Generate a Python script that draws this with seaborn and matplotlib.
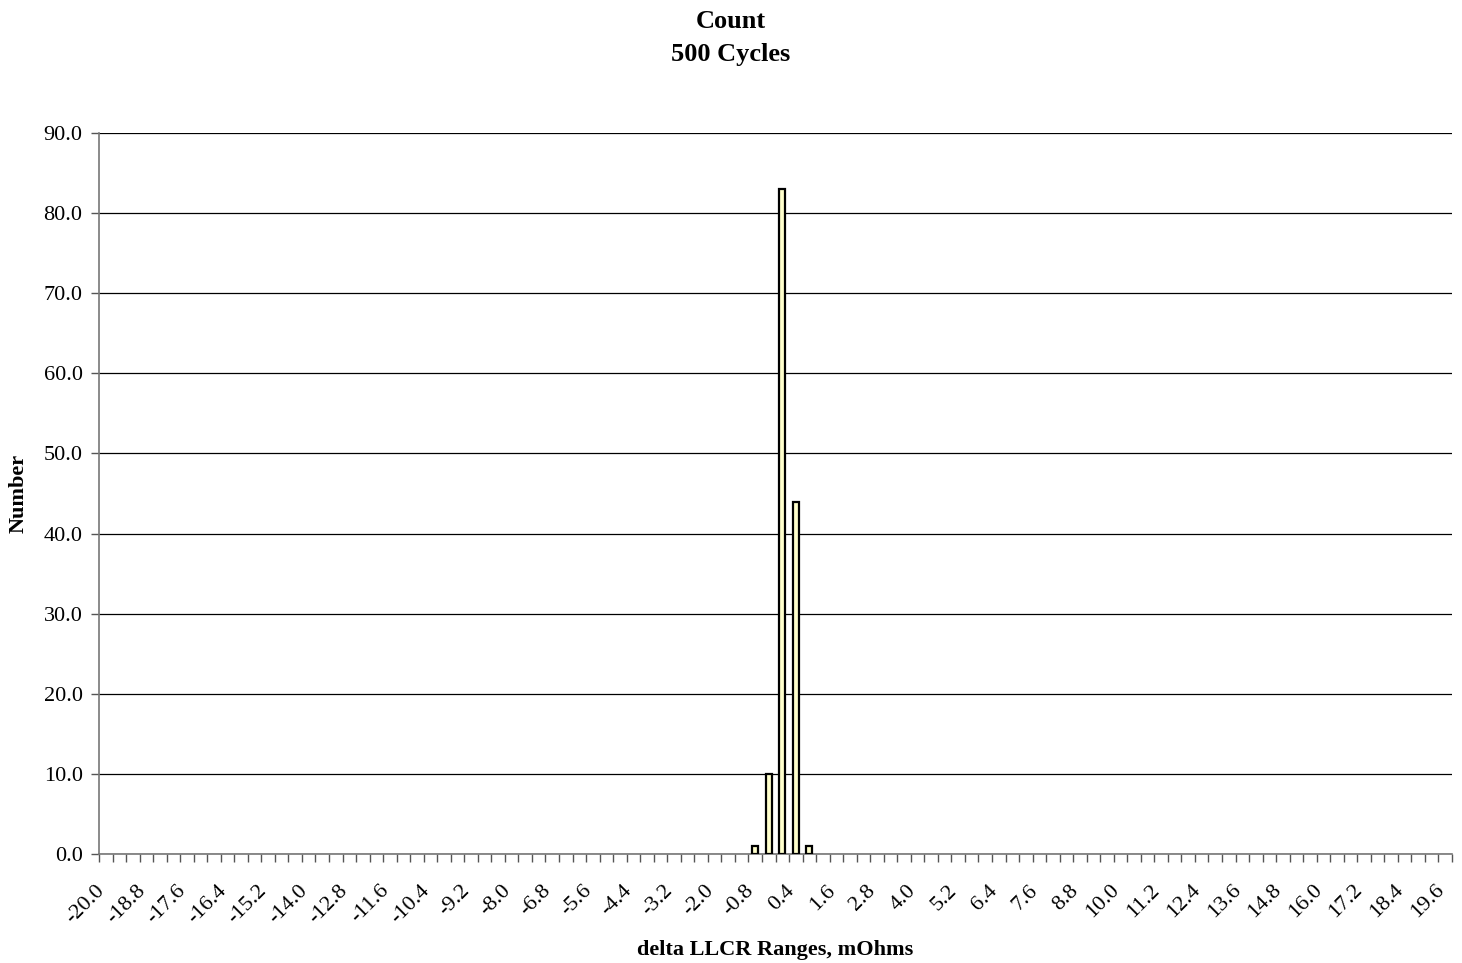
import numpy as np
import pandas as pd
import matplotlib
matplotlib.use("Agg")
import matplotlib.pyplot as plt
import matplotlib.transforms as mtransforms
import seaborn as sns

# categories: -20.0 .. 19.6 step 0.4
categories = [f"{v:.1f}" for v in np.round(np.arange(-20.0, 19.61, 0.4), 1)]
categories = [c if c != "-0.0" else "0.0" for c in categories]
nonzero = {"-0.8": 1, "-0.4": 10, "0.0": 83, "0.4": 44, "0.8": 1}
counts = [nonzero.get(c, 0) for c in categories]

title = "Count\n500 Cycles"
xlabel = "delta LLCR Ranges, mOhms"
ylabel = "Number"
yticks = [0, 10, 20, 30, 40, 50, 60, 70, 80, 90]

sns.set_theme(style="white")
plt.rcParams['font.family'] = ['Liberation Serif', 'DejaVu Serif']
plt.rcParams['text.color'] = 'black'
plt.rcParams['axes.labelcolor'] = 'black'
plt.rcParams['xtick.color'] = 'black'
plt.rcParams['ytick.color'] = 'black'

df = pd.DataFrame({"cat": categories, "count": counts})

fig = plt.figure(figsize=(14.62, 9.63), dpi=100)
ax = fig.add_axes([99/1462, 1 - 854/963, (1452-99)/1462, (854-133)/963])

sns.barplot(data=df, x="cat", y="count", order=categories, color="#FFFFCC",
            width=0.42, edgecolor="black", linewidth=1.6, saturation=1, ax=ax, zorder=3)
for p in ax.patches:
    if p.get_height() == 0:
        p.set_visible(False)

ax.set_yticks(yticks)
ax.set_yticklabels([f"{v:.1f}" for v in yticks], fontsize=16, color="black")
ax.yaxis.grid(True, color="#000000", linewidth=0.9, zorder=0)
ax.xaxis.grid(False)

# tick marks at category boundaries; no major tick labels (drawn below)
ax.set_xticks([])
ax.set_xticks(np.arange(-0.5, len(categories), 1), minor=True)
ax.tick_params(axis="x", which="minor", length=5.8, width=1, color="#555555",
               direction="out", bottom=True)
ax.tick_params(axis="y", which="major", length=5.8, width=1, color="#555555",
               direction="out", pad=6, left=True)
ax.set_xlim(-0.5, len(categories) - 0.5)
ax.set_ylim(0, 90)

# category labels every 3rd category, rotated 45 degrees
lab_trans = mtransforms.offset_copy(ax.get_xaxis_transform(), fig=fig, x=0, y=-27, units="dots")
for i in range(0, len(categories), 3):
    ax.text(i - 0.8, 0, categories[i], transform=lab_trans, rotation=45,
            ha="right", va="top", rotation_mode="anchor", fontsize=16,
            color="black", clip_on=False)

for s in ["top", "right"]:
    ax.spines[s].set_visible(False)
for s in ["left", "bottom"]:
    ax.spines[s].set_color("#777777")
    ax.spines[s].set_linewidth(1.2)

ax.set_xlabel("")
fig.text(775/1462, 1 - 950/963, xlabel, fontsize=16, fontweight="bold",
         ha="center", va="center", color="black")
ax.set_ylabel(ylabel, fontsize=16, fontweight="bold", labelpad=11, color="black")
fig.suptitle(title, fontsize=19, fontweight="bold", y=1 - 10/963, va="top",
             linespacing=1.55, color="black")

fig.savefig("out.png", dpi=100)
